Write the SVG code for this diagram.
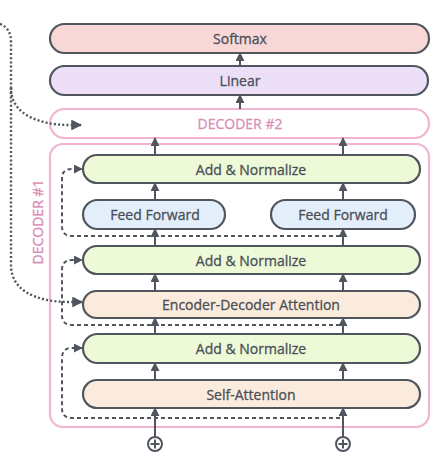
<svg xmlns="http://www.w3.org/2000/svg" width="440" height="470" viewBox="0 0 440 470">
<defs>
<marker id="ah" viewBox="0 0 10 10" refX="9" refY="5" markerWidth="4.5" markerHeight="4.5" orient="auto" markerUnits="strokeWidth">
<path d="M0,0 L10,5 L0,10 z" fill="#51565e"/>
</marker>
<style>
.box{stroke:#51565e;stroke-width:2.2}
.pk{fill:#ffffff;stroke:#f4b3d2;stroke-width:2.2}
.t{font-family:"Open Sans","Noto Sans","DejaVu Sans",sans-serif;font-size:14px;fill:#4a4f57;stroke:#4a4f57;stroke-width:0.3;text-anchor:middle}
.tp{font-family:"Open Sans","Noto Sans","DejaVu Sans",sans-serif;font-size:14px;fill:#d88db4;stroke:#d88db4;stroke-width:0.3;text-anchor:middle}
.a{fill:none;stroke:#51565e;stroke-width:2;marker-end:url(#ah)}
.d{fill:none;stroke:#51565e;stroke-width:2;stroke-dasharray:4 3;marker-end:url(#ah)}
.o{fill:none;stroke:#51565e;stroke-width:2.4;stroke-dasharray:2 2.2;marker-end:url(#ah)}
.sa{fill:#fbebdc}.an{fill:#eef9d8}.ff{fill:#e3eefb}
</style>
</defs>
<g id="decoder1"><rect class="pk" x="50" y="144" width="379" height="283" rx="13"/>
<text class="tp" transform="translate(43,222) rotate(-90)">DECODER #1</text></g>
<g id="decoder2"><rect class="pk" x="50" y="109" width="379" height="29" rx="14.5"/>
<text class="tp" x="240" y="129">DECODER #2</text></g>
<g id="softmax"><rect class="box" x="50" y="24" width="379" height="29" rx="14.5" fill="#f8d8d6"/>
<text class="t" x="240" y="44">Softmax</text></g>
<g id="linear"><rect class="box" x="50" y="66" width="378" height="29" rx="14.5" fill="#ecdff7"/>
<text class="t" x="240" y="86">Linear</text></g>
<g id="addnorm1"><rect class="box an" x="83" y="155" width="337" height="28" rx="14"/>
<text class="t" x="251" y="174.5">Add &amp; Normalize</text></g>
<g id="ff1"><rect class="box ff" x="83" y="200" width="142" height="29" rx="14.5"/>
<text class="t" x="155" y="220">Feed Forward</text></g>
<g id="ff2"><rect class="box ff" x="271" y="200" width="144" height="29" rx="14.5"/>
<text class="t" x="343" y="220">Feed Forward</text></g>
<g id="addnorm2"><rect class="box an" x="83" y="246" width="337" height="28" rx="14"/>
<text class="t" x="251" y="265.5">Add &amp; Normalize</text></g>
<g id="encdec"><rect class="box sa" x="83" y="291" width="337" height="27" rx="13.5"/>
<text class="t" x="251" y="310">Encoder-Decoder Attention</text></g>
<g id="addnorm3"><rect class="box an" x="83" y="334" width="337" height="29" rx="14.5"/>
<text class="t" x="251" y="354">Add &amp; Normalize</text></g>
<g id="selfattn"><rect class="box sa" x="83" y="380" width="337" height="28" rx="14"/>
<text class="t" x="251" y="399.5">Self-Attention</text></g>
<g id="plus1"><circle cx="155" cy="444" r="7" fill="#fff" stroke="#51565e" stroke-width="2"/><path d="M150.5 444H159.5M155 439.5V448.5" stroke="#51565e" stroke-width="2"/></g>
<g id="plus2"><circle cx="343" cy="444" r="7" fill="#fff" stroke="#51565e" stroke-width="2"/><path d="M338.5 444H347.5M343 439.5V448.5" stroke="#51565e" stroke-width="2"/></g>
<g id="connectors">
<path class="a" d="M240 66V53"/>
<path class="a" d="M240 109V95"/>
<path class="a" d="M155 155V138"/>
<path class="a" d="M343 155V138"/>
<path class="a" d="M155 200V183"/>
<path class="a" d="M343 200V183"/>
<path class="a" d="M155 246V229"/>
<path class="a" d="M343 246V229"/>
<path class="a" d="M155 291V274"/>
<path class="a" d="M343 291V274"/>
<path class="a" d="M155 334V318"/>
<path class="a" d="M343 334V318"/>
<path class="a" d="M155 380V363"/>
<path class="a" d="M343 380V363"/>
<path class="a" d="M155 437V408"/>
<path class="a" d="M343 437V408"/>
<path class="d" d="M340 236H72Q62 236 62 226V178Q62 169 72 169H82"/>
<path class="d" d="M340 325H72Q62 325 62 315V270Q62 260 72 260H82"/>
<path class="d" d="M340 418H72Q62 418 62 408V358Q62 348 72 348H82"/>
<path class="o" d="M0 24Q11 28 11 42V88C11 115 40 125 70 125H81"/>
<path class="o" d="M11 88V265C11 290 35 302 70 302H82"/>
</g>
</svg>
